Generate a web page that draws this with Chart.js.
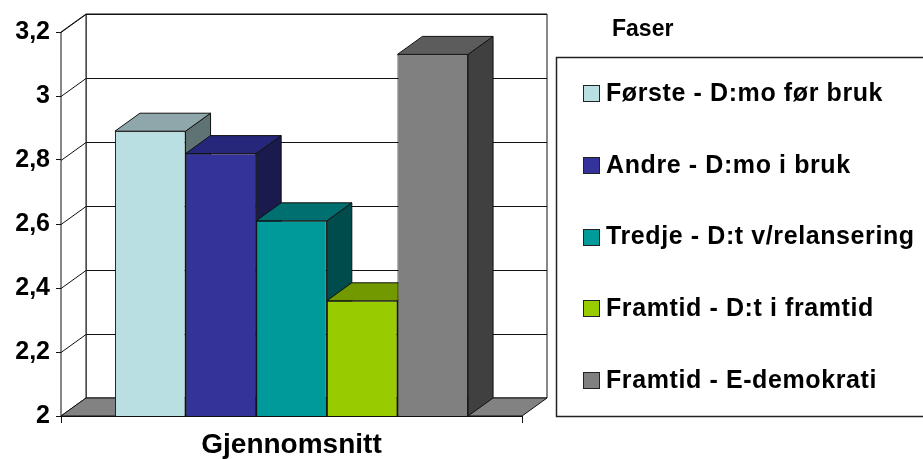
<!DOCTYPE html>
<html>
<head>
<meta charset="utf-8">
<script src="https://cdn.jsdelivr.net/npm/chart.js@4.4.1/dist/chart.umd.min.js"></script>
<style>
  html, body { margin: 0; padding: 0; background: #fff; }
  #wrap { width: 923px; height: 459px; }
</style>
</head>
<body>
<div id="wrap"><canvas id="grafikk" width="923" height="459"></canvas></div>
<script>
// data lest av bildet
var kategorier = ['Gjennomsnitt'];
var faser = ['Første - D:mo før bruk', 'Andre - D:mo i bruk', 'Tredje - D:t v/relansering', 'Framtid - D:t i framtid', 'Framtid - E-demokrati'];
var verdier = [2.89, 2.82, 2.61, 2.36, 3.13];
var yMin = 2, yMax = 3.2, yStep = 0.2;

// farger: front, topp, side
var fargerFront = ['#b9dfe3', '#333399', '#009a9a', '#99cc00', '#808080'];
var fargerTopp = ['#8fa6aa', '#26267a', '#006f6f', '#739900', '#5c5c5c'];
var fargerSide = ['#5f7375', '#1a1a4d', '#004c4c', '#4d6600', '#404040'];

var DX = 25, DY = -18;   // 3d-forskyvning
var FONT = '"Liberation Sans", Arial, sans-serif';

function poly(ctx, pts, fill) {
    ctx.beginPath();
    ctx.moveTo(pts[0][0], pts[0][1]);
    for (var i = 1; i < pts.length; i++) ctx.lineTo(pts[i][0], pts[i][1]);
    ctx.closePath();
    if (fill) { ctx.fillStyle = fill; ctx.fill(); }
    ctx.stroke();
}

// vegger, gulv og sider/topper på søylene
var tredePlugin = {
    id: 'trede',
    beforeDatasetsDraw: function (chart) {
        var ctx = chart.ctx, a = chart.chartArea, ys = chart.scales.y;
        var L = a.left, R = a.right, T = a.top, B = a.bottom;
        ctx.save();
        ctx.strokeStyle = '#111';
        ctx.lineWidth = 1;
        // bakvegg og venstre vegg
        poly(ctx, [[L + DX, T + DY], [R + DX, T + DY], [R + DX, B + DY], [L + DX, B + DY]], '#fff');
        poly(ctx, [[L, B], [L, T], [L + DX, T + DY], [L + DX, B + DY]], '#fff');
        // rutenett
        for (var v = yMin + yStep; v <= yMax + 1e-9; v += yStep) {
            var y = Math.round(ys.getPixelForValue(v)) + 0.5;
            ctx.beginPath();
            ctx.moveTo(L, y);
            ctx.lineTo(L + DX, y + DY);
            ctx.lineTo(R + DX, y + DY);
            ctx.stroke();
        }
        // gulv
        poly(ctx, [[L, B], [R, B], [R + DX, B + DY], [L + DX, B + DY]], '#828282');

        // side og topp for hver søyle, venstre mot høyre
        for (var i = 0; i < chart.data.datasets.length; i++) {
            var bar = chart.getDatasetMeta(i).data[0];
            var x0 = bar.x - bar.width / 2, x1 = bar.x + bar.width / 2;
            var top = bar.y, base = Math.min(bar.base, B);
            poly(ctx, [[x1, top], [x1 + DX, top + DY], [x1 + DX, base + DY], [x1, base]], fargerSide[i]);
            poly(ctx, [[x0, top], [x0 + DX, top + DY], [x1 + DX, top + DY], [x1, top]], fargerTopp[i]);
        }
        ctx.restore();
    },
    afterDraw: function (chart) {
        // egen forklaring med ramme
        var ctx = chart.ctx;
        ctx.save();
        ctx.strokeStyle = '#222';
        ctx.lineWidth = 1.5;
        ctx.beginPath();
        ctx.moveTo(925, 57.5);
        ctx.lineTo(556.5, 57.5);
        ctx.lineTo(556.5, 416.5);
        ctx.lineTo(925, 416.5);
        ctx.stroke();

        ctx.fillStyle = '#000';
        ctx.textBaseline = 'middle';
        ctx.textAlign = 'left';
        ctx.font = 'bold 23px ' + FONT;
        ctx.fillText('Faser', 612, 30);

        ctx.font = 'bold 25px ' + FONT;
        if ('letterSpacing' in ctx) ctx.letterSpacing = '0.6px';
        ctx.lineWidth = 1;
        for (var i = 0; i < faser.length; i++) {
            var yc = 93 + i * 71.8;
            ctx.fillStyle = fargerFront[i];
            ctx.fillRect(583.5, Math.round(yc - 8) + 0.5, 16, 16);
            ctx.strokeStyle = '#222';
            ctx.strokeRect(583.5, Math.round(yc - 8) + 0.5, 16, 16);
            ctx.fillStyle = '#000';
            ctx.fillText(faser[i], 606, yc + 1);
        }
        ctx.restore();
    }
};

var datasets = [];
for (var i = 0; i < faser.length; i++) {
    datasets.push({
        label: faser[i],
        data: [verdier[i]],
        backgroundColor: fargerFront[i],
        borderColor: '#111',
        borderWidth: 1,
        categoryPercentage: 0.766,
        barPercentage: 1
    });
}

var grafikk = new Chart(document.getElementById('grafikk'), {
    type: 'bar',
    data: { labels: kategorier, datasets: datasets },
    plugins: [tredePlugin],
    options: {
        responsive: false,
        animation: false,
        layout: { padding: { top: 32, right: 401, bottom: 0, left: 0 } },
        plugins: {
            legend: { display: false },
            tooltip: { enabled: false }
        },
        scales: {
            x: {
                grid: { drawOnChartArea: false, drawTicks: true, tickLength: 7, color: '#111' },
                border: { display: true, color: '#111' },
                ticks: { color: '#000', font: { family: FONT, size: 28, weight: 'bold' }, padding: 5 },
                afterFit: function (s) { s.height = 43; }
            },
            y: {
                min: yMin,
                max: yMax,
                grid: { drawOnChartArea: false, drawTicks: true, tickLength: 5, color: '#111' },
                border: { display: true, color: '#111' },
                ticks: {
                    stepSize: yStep,
                    padding: 6,
                    color: '#000',
                    font: { family: FONT, size: 25, weight: 'bold' },
                    callback: function (v) { return String(Math.round(v * 10) / 10).replace('.', ','); }
                },
                afterFit: function (s) { s.width = 61; }
            }
        }
    }
});
</script>
</body>
</html>
